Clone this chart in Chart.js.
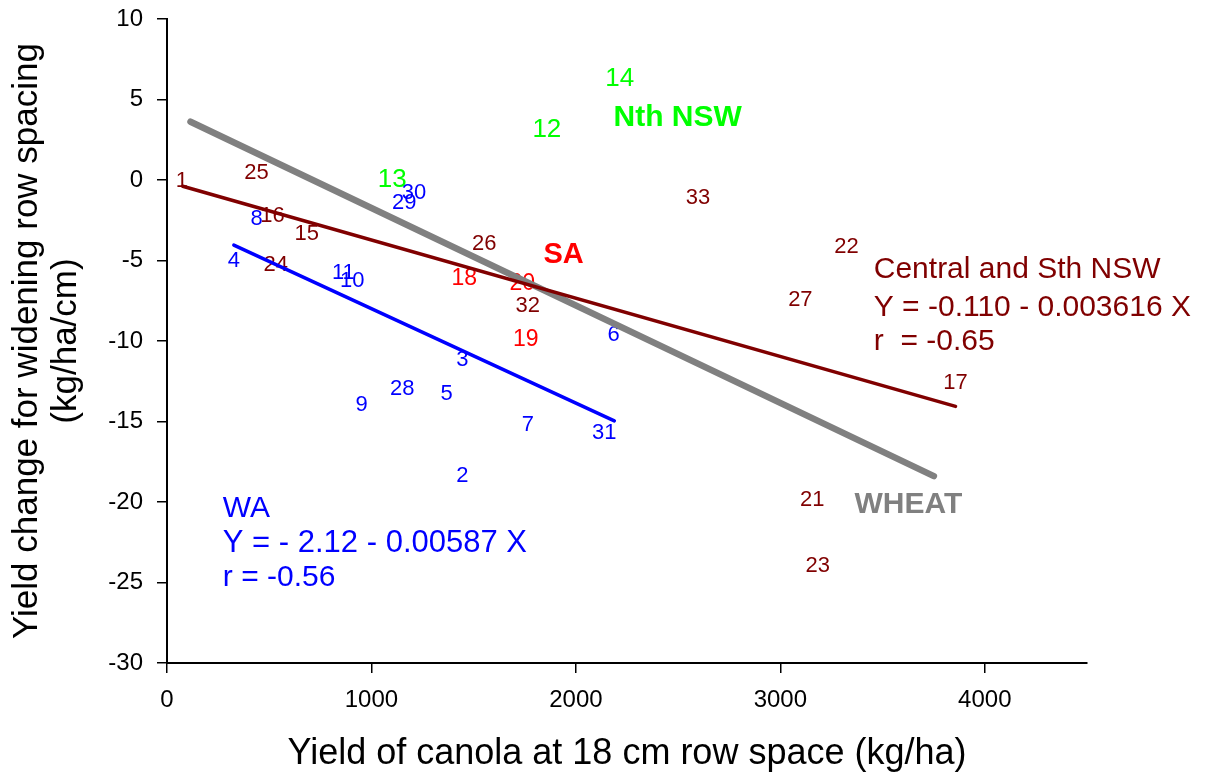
<!DOCTYPE html>
<html>
<head>
<meta charset="utf-8">
<script src="https://cdn.jsdelivr.net/npm/chart.js@4"></script>
<style>
  body { margin: 0; background: #fff; }
  canvas { display: block; }
</style>
</head>
<body>
<canvas id="chart" width="1215" height="778"></canvas>
<script>
// site numbers and their values, by region
var waIds = ['2', '3', '4', '5', '6', '7', '8', '9', '10', '11', '28', '29', '30', '31'];
var waX = [1445, 1445, 327, 1368, 2184, 1765, 438, 952, 906, 863, 1151, 1161, 1208, 2139];
var waY = [-18.4, -11.2, -5.0, -13.3, -9.6, -15.2, -2.4, -14.0, -6.3, -5.8, -13.0, -1.4, -0.8, -15.7];

var nthIds = ['12', '13', '14'];
var nthX = [1858, 1102, 2214];
var nthY = [3.1, 0.0, 6.3];

var saIds = ['18', '19', '20'];
var saX = [1454, 1755, 1738];
var saY = [-6.15, -9.9, -6.45];

var cenIds = ['1', '15', '16', '17', '21', '22', '23', '24', '25', '26', '27', '32', '33'];
var cenX = [73, 683, 516, 3857, 3156, 3324, 3183, 532, 438, 1552, 3098, 1765, 2597];
var cenY = [-0.05, -3.35, -2.25, -12.6, -19.9, -4.15, -23.95, -5.3, 0.45, -3.95, -7.45, -7.8, -1.1];

// fitted lines, end points
var waFitX = [327, 2188];
var waFitY = [-4.04, -14.96];
var cenFitX = [77, 3857];
var cenFitY = [-0.39, -14.06];
var wheatFitX = [115, 3751];
var wheatFitY = [3.62, -18.39];

var xTicks = [0, 1000, 2000, 3000, 4000];
var yTicks = [-30, -25, -20, -15, -10, -5, 0, 5, 10];

var xTitle = 'Yield of canola at 18 cm row space (kg/ha)';
var yTitle = ['Yield change for widening row spacing', '(kg/ha/cm)'];

var MAROON = '#800000', BLUE = '#0000FF', RED = '#FF0000', GREEN = '#00FF00', GREY = '#808080';

// text written on the plot, anchored in data units (left, baseline)
var notes = [
    {text: 'Nth NSW', x: 2184, y: 3.37, color: GREEN, size: 30, bold: true},
    {text: 'SA', x: 1841, y: -5.17, color: RED, size: 29, bold: true},
    {text: 'WHEAT', x: 3363, y: -20.7, color: GREY, size: 30, bold: true},
    {text: 'Central and Sth NSW', x: 3457, y: -6.11, color: MAROON, size: 30},
    {text: 'Y = -0.110 - 0.003616 X', x: 3457, y: -8.43, color: MAROON, size: 30},
    {text: 'r  = -0.65', x: 3457, y: -10.56, color: MAROON, size: 30},
    {text: 'WA', x: 273, y: -20.95, color: BLUE, size: 30},
    {text: 'Y = - 2.12 - 0.00587 X', x: 273, y: -23.09, color: BLUE, size: 31},
    {text: 'r = -0.56', x: 273, y: -25.22, color: BLUE, size: 30}
];

var FONT = "'Liberation Sans', Arial, sans-serif";
Chart.defaults.font.family = FONT;
Chart.defaults.color = '#000';

function pts(xs, ys) {
    return xs.map(function (x, i) { return {x: x, y: ys[i]}; });
}

function labelSet(ids, xs, ys, color, size) {
    return {data: pts(xs, ys), ids: ids, textColor: color, textSize: size, pointRadius: 0, showLine: false};
}

function fitLine(xs, ys, color, width) {
    return {data: pts(xs, ys), showLine: true, borderColor: color, borderWidth: width,
        borderCapStyle: 'round', pointRadius: 0, fill: false};
}

// draws the site numbers as the markers, under the fitted lines
var siteLabels = {
    id: 'siteLabels',
    beforeDatasetsDraw: function (chart) {
        var ctx = chart.ctx;
        ctx.save();
        ctx.textAlign = 'center';
        ctx.textBaseline = 'middle';
        chart.data.datasets.forEach(function (ds, i) {
            if (!ds.ids) return;
            ctx.fillStyle = ds.textColor;
            ctx.font = ds.textSize + 'px ' + FONT;
            chart.getDatasetMeta(i).data.forEach(function (el, j) {
                ctx.fillText(ds.ids[j], el.x, el.y);
            });
        });
        ctx.restore();
    },
    afterDatasetsDraw: function (chart) {
        var ctx = chart.ctx;
        var xs = chart.scales.x, ys = chart.scales.y;
        ctx.save();
        ctx.textAlign = 'left';
        ctx.textBaseline = 'alphabetic';
        notes.forEach(function (n) {
            ctx.fillStyle = n.color;
            ctx.font = (n.bold ? 'bold ' : '') + n.size + 'px ' + FONT;
            ctx.fillText(n.text, xs.getPixelForValue(n.x), ys.getPixelForValue(n.y));
        });
        ctx.restore();
    }
};

function setTicks(list) {
    return function (s) { s.ticks = list.map(function (v) { return {value: v}; }); };
}

new Chart(document.getElementById('chart'), {
    type: 'scatter',
    data: {
        datasets: [
            fitLine(cenFitX, cenFitY, MAROON, 3.5),
            fitLine(wheatFitX, wheatFitY, GREY, 6.5),
            fitLine(waFitX, waFitY, BLUE, 3.5),
            labelSet(waIds, waX, waY, BLUE, 22),
            labelSet(nthIds, nthX, nthY, GREEN, 26),
            labelSet(saIds, saX, saY, RED, 23),
            labelSet(cenIds, cenX, cenY, MAROON, 22)
        ]
    },
    options: {
        responsive: false,
        animation: false,
        layout: {padding: {top: 19, right: 128, left: 0, bottom: 0}},
        plugins: {legend: {display: false}, tooltip: {enabled: false}},
        scales: {
            x: {
                type: 'linear',
                min: 0,
                max: 4500,
                afterBuildTicks: setTicks(xTicks),
                afterFit: function (s) { s.height = 115; s.paddingLeft = 0; s.paddingRight = 0; },
                ticks: {padding: 13, color: '#000', font: {size: 24}, callback: function (v) { return String(v); }},
                grid: {drawOnChartArea: false, tickLength: 10, color: '#000', lineWidth: 1.5},
                border: {color: '#000', width: 2},
                title: {display: true, text: xTitle, color: '#000', font: {size: 36}, padding: {top: 0, bottom: 2}}
            },
            y: {
                type: 'linear',
                min: -30,
                max: 10,
                afterBuildTicks: setTicks(yTicks),
                afterFit: function (s) { s.width = 167; s.paddingTop = 0; s.paddingBottom = 0; },
                ticks: {padding: 14, color: '#000', font: {size: 24}, callback: function (v) { return String(v); }},
                grid: {drawOnChartArea: false, tickLength: 10, color: '#000', lineWidth: 1.5},
                border: {color: '#000', width: 2},
                title: {display: true, text: yTitle, color: '#000', font: {size: 35, lineHeight: 1.12}, padding: {top: 8, bottom: 0}}
            }
        }
    },
    plugins: [siteLabels]
});
</script>
</body>
</html>
